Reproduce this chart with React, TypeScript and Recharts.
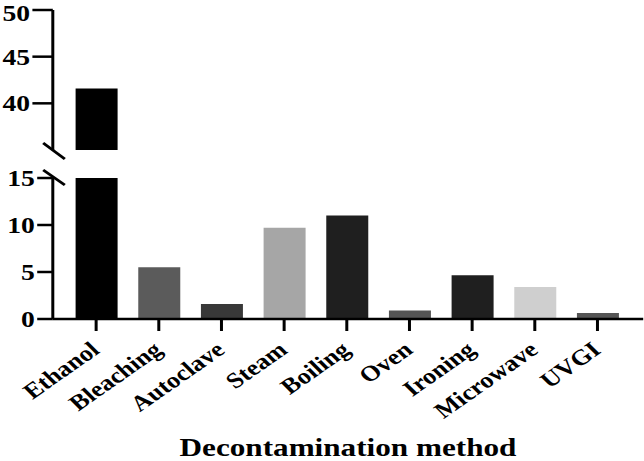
import { BarChart, Bar, XAxis, YAxis, Cell, Label } from 'recharts'

const categories = ['Ethanol', 'Bleaching', 'Autoclave', 'Steam', 'Boiling', 'Oven', 'Ironing', 'Microwave', 'UVGI']
const values = [41.6, 5.5, 1.6, 9.7, 11.0, 0.9, 4.65, 3.4, 0.65]
const colors = ['#000000', '#5b5b5b', '#383838', '#a6a6a6', '#1f1f1f', '#555555', '#1f1f1f', '#cfcfcf', '#555555']
const upperTicks = [35, 40, 45, 50]
const lowerTicks = [0, 5, 10, 15]

const data = categories.map((name, i) => ({ name, value: values[i] }))

const FONT = '"Liberation Serif", "Times New Roman", serif'
// reference looks horizontally stretched, so lay out narrow and scale x
const SX = 1.2
const W = 537
const AXIS = { stroke: '#000', strokeWidth: 2.5 }
const PAD = { left: 10, right: 12 }

function RotatedTick(props: any) {
  const { x, y, payload } = props
  const px = x + 4
  const py = y + 19
  return (
    <text
      x={px}
      y={py}
      textAnchor="end"
      transform={`rotate(-40, ${px}, ${py})`}
      fontFamily={FONT}
      fontWeight="bold"
      fontSize={22}
      fill="#000"
    >
      {payload.value}
    </text>
  )
}

const yTick = { fontFamily: FONT, fontWeight: 'bold', fontSize: 23, fill: '#000' }

export default function App() {
  return (
    <div style={{ position: 'absolute', left: 0, top: 0, width: 644, height: 461, background: '#fff', overflow: 'hidden' }}>
      <div style={{ position: 'relative', width: W, height: 461, transform: `scaleX(${SX})`, transformOrigin: 'left top' }}>
        {/* upper segment 35-50 */}
        <div style={{ position: 'absolute', left: 0, top: 0 }}>
          <BarChart width={W} height={160} data={data} margin={{ top: 10, right: 1, bottom: 10, left: 0 }}>
            <XAxis dataKey="name" hide padding={PAD} />
            <YAxis
              type="number"
              domain={[35, 50]}
              ticks={upperTicks}
              allowDataOverflow
              width={44}
              axisLine={AXIS}
              tickLine={AXIS}
              tickSize={17}
              tickMargin={2}
              tick={yTick}
            />
            <Bar dataKey="value" barSize={35} isAnimationActive={false}>
              {data.map((d, i) => (
                <Cell key={d.name} fill={colors[i]} />
              ))}
            </Bar>
          </BarChart>
        </div>
        {/* lower segment 0-15 */}
        <div style={{ position: 'absolute', left: 0, top: 0 }}>
          <BarChart width={W} height={461} data={data} margin={{ top: 178, right: 1, bottom: 0, left: 0 }}>
            <XAxis
              dataKey="name"
              height={142}
              padding={PAD}
              interval={0}
              axisLine={AXIS}
              tickLine={AXIS}
              tickSize={12}
              tick={<RotatedTick />}
            >
              <Label
                value="Decontamination method"
                position="insideBottom"
                offset={5}
                fontFamily={FONT}
                fontWeight="bold"
                fontSize={26}
                fill="#000"
              />
            </XAxis>
            <YAxis
              type="number"
              domain={[0, 15]}
              ticks={lowerTicks}
              allowDataOverflow
              width={44}
              axisLine={AXIS}
              tickLine={AXIS}
              tickSize={13}
              tickMargin={2}
              tick={yTick}
            />
            <Bar dataKey="value" barSize={35} isAnimationActive={false}>
              {data.map((d, i) => (
                <Cell key={d.name} fill={colors[i]} />
              ))}
            </Bar>
          </BarChart>
        </div>
        {/* axis break marks */}
        <svg width={W} height={461} style={{ position: 'absolute', left: 0, top: 0, pointerEvents: 'none' }}>
          <line x1={36} y1={143} x2={54} y2={159} stroke="#000" strokeWidth={2.5} />
          <line x1={36} y1={170} x2={54} y2={185} stroke="#000" strokeWidth={2.5} />
        </svg>
      </div>
    </div>
  )
}
